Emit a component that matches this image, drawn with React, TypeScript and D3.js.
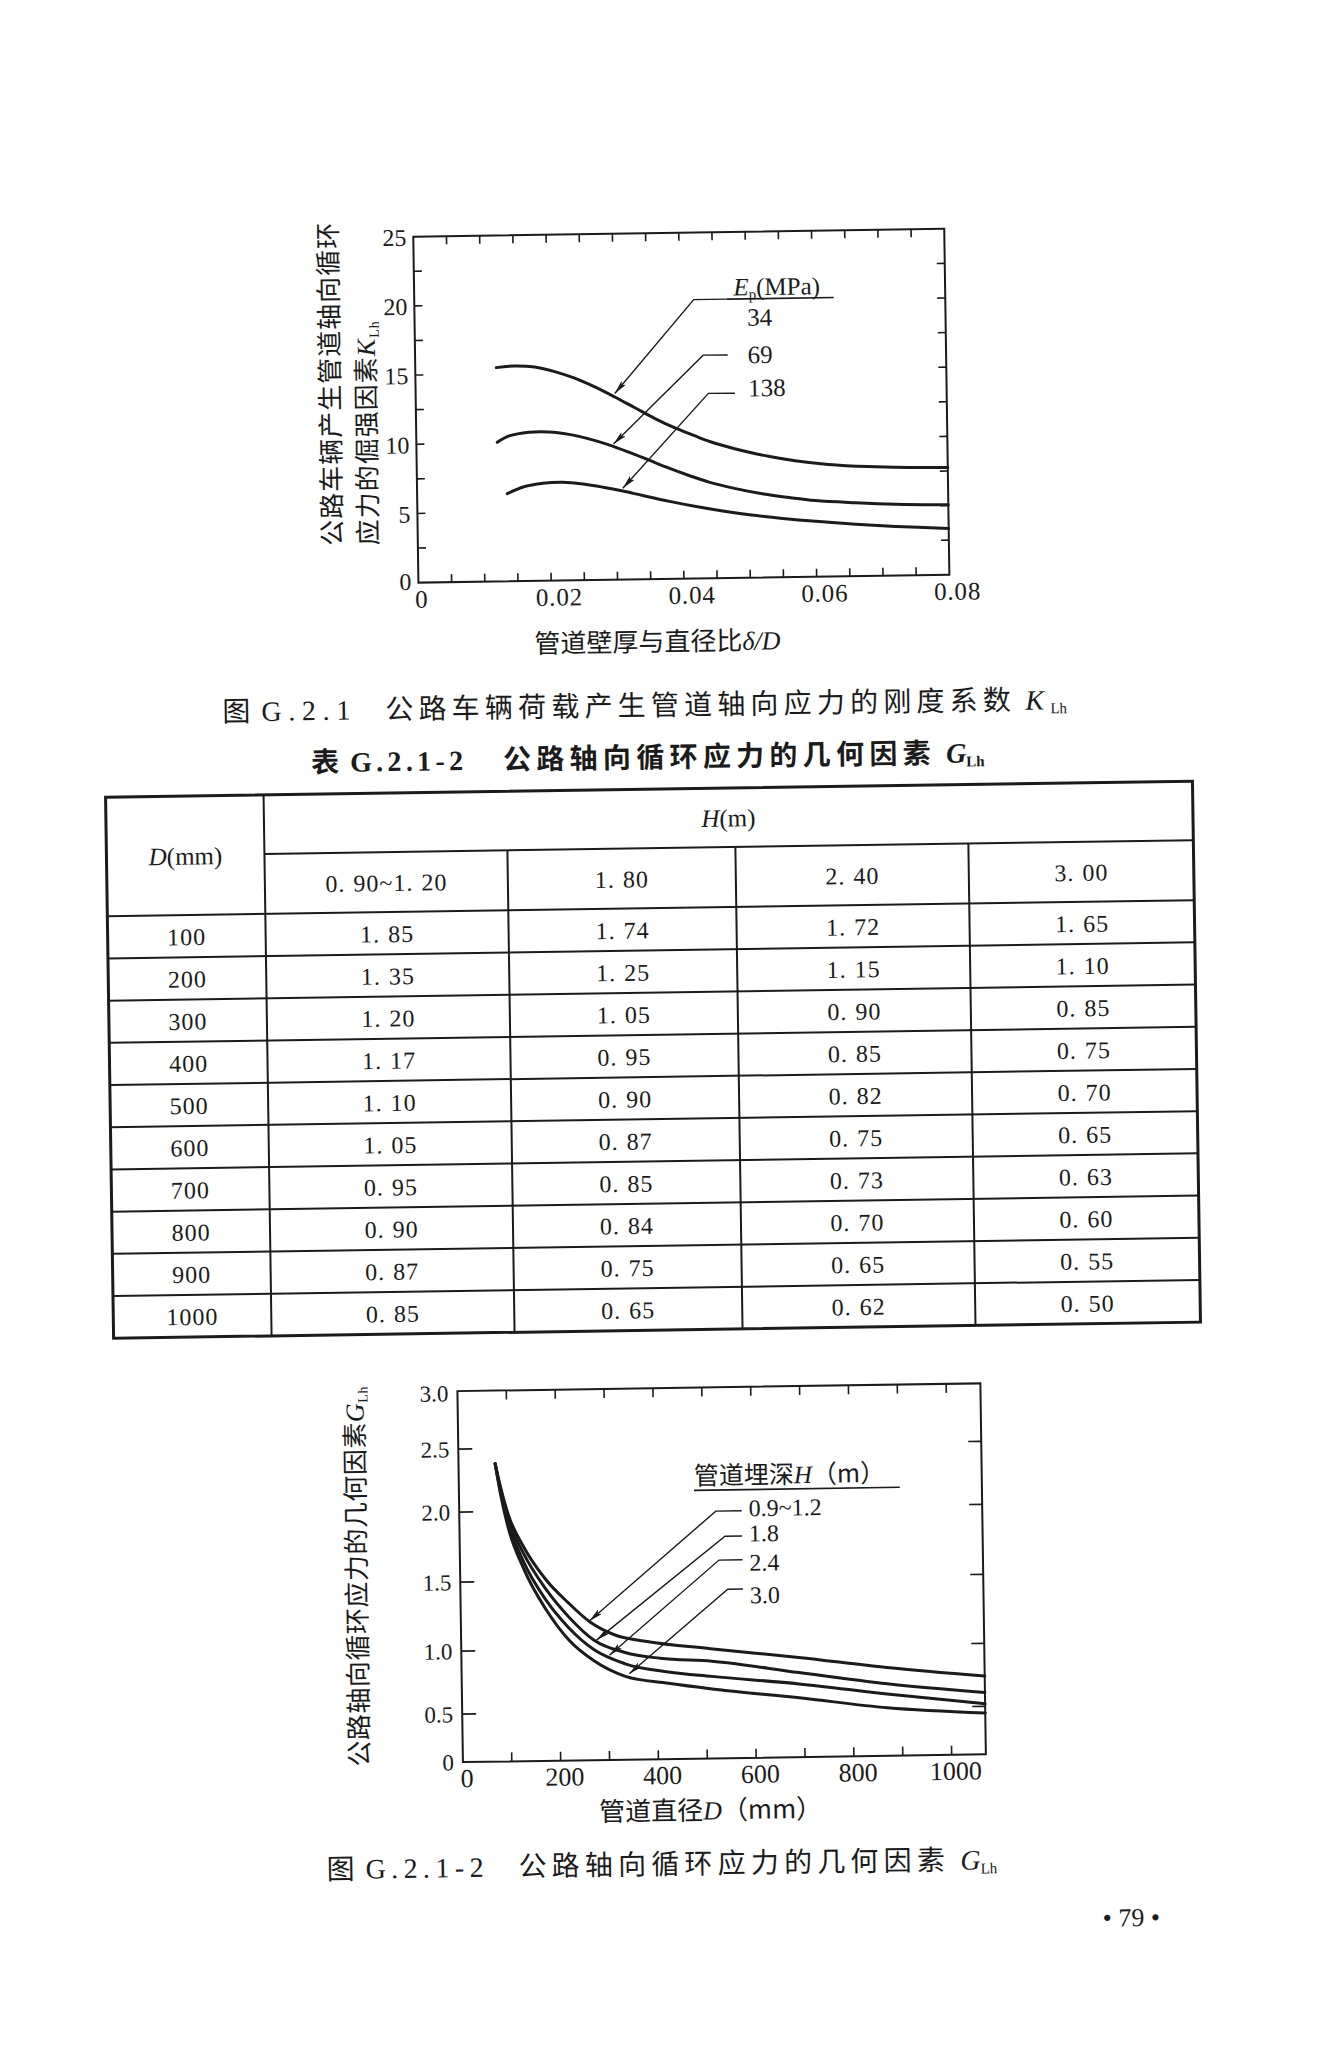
import React from 'react';
import * as d3 from 'd3';

// ---------------- Figure G.2.1 : K_Lh vs δ/D ----------------
const kSeriesNames = ['34', '69', '138'];
const kE34: [number, number][] = [
  [0.0122, 15.45], [0.015, 15.55], [0.018, 15.45], [0.021, 15.1], [0.024, 14.6], [0.027, 13.95],
  [0.03, 13.2], [0.033, 12.4], [0.036, 11.6], [0.039, 10.9], [0.042, 10.3], [0.045, 9.75],
  [0.049, 9.2], [0.053, 8.75], [0.057, 8.4], [0.062, 8.1], [0.068, 7.9], [0.074, 7.8], [0.08, 7.75],
];
const kE69: [number, number][] = [
  [0.0122, 10.05], [0.014, 10.5], [0.017, 10.75], [0.02, 10.75], [0.023, 10.55], [0.026, 10.2],
  [0.029, 9.75], [0.032, 9.2], [0.035, 8.6], [0.038, 8.0], [0.041, 7.45], [0.044, 6.95],
  [0.048, 6.45], [0.052, 6.05], [0.056, 5.75], [0.06, 5.5], [0.066, 5.3], [0.072, 5.15], [0.08, 5.05],
];
const kE138: [number, number][] = [
  [0.0136, 6.33], [0.016, 6.8], [0.019, 7.05], [0.022, 7.1], [0.025, 6.95], [0.028, 6.7],
  [0.031, 6.4], [0.034, 6.05], [0.038, 5.6], [0.042, 5.2], [0.046, 4.85], [0.05, 4.55],
  [0.055, 4.25], [0.06, 4.0], [0.066, 3.75], [0.072, 3.55], [0.08, 3.35],
];
const kXTickValues = [0, 0.02, 0.04, 0.06, 0.08];
const kXTickLabels = ['0', '0.02', '0.04', '0.06', '0.08'];
const kYTickValues = [0, 5, 10, 15, 20, 25];
// annotation anchors (data units): label, leader start, bend, arrow tip
const kLeaderLabelAt: [number, number][] = [[0.0501, 18.2], [0.0501, 15.5], [0.0501, 13.1]];
const kLeaderStart: [number, number][] = [[0.0471, 20.15], [0.0471, 16.11], [0.0481, 13.34]];
const kLeaderBend: [number, number][] = [[0.0421, 20.15], [0.0434, 16.13], [0.0441, 13.36]];
const kLeaderTip: [number, number][] = [[0.030, 13.45], [0.0297, 9.8], [0.031, 6.6]];
const kLegendTitleAt: [number, number] = [0.0481, 20.4];
const kLegendRule: [number, number, number] = [0.0471, 0.0632, 20.15];

// ---------------- Table G.2.1-2 ----------------
const tableDepths = ['0.90~1.20', '1.80', '2.40', '3.00'];
const tableDiameters = ['100', '200', '300', '400', '500', '600', '700', '800', '900', '1000'];
const tableH090 = ['1.85', '1.35', '1.20', '1.17', '1.10', '1.05', '0.95', '0.90', '0.87', '0.85'];
const tableH180 = ['1.74', '1.25', '1.05', '0.95', '0.90', '0.87', '0.85', '0.84', '0.75', '0.65'];
const tableH240 = ['1.72', '1.15', '0.90', '0.85', '0.82', '0.75', '0.73', '0.70', '0.65', '0.62'];
const tableH300 = ['1.65', '1.10', '0.85', '0.75', '0.70', '0.65', '0.63', '0.60', '0.55', '0.50'];

// ---------------- Figure G.2.1-2 : G_Lh vs D ----------------
const gSeriesNames = ['0.9~1.2', '1.8', '2.4', '3.0'];
const gH09: [number, number][] = [
  [75, 2.38], [85, 2.2], [100, 1.98], [130, 1.75], [175, 1.51], [220, 1.34], [265, 1.195],
  [315, 1.1], [380, 1.05], [510, 0.99], [690, 0.91], [870, 0.82], [1070, 0.74],
];
const gH18: [number, number][] = [
  [75, 2.38], [85, 2.18], [100, 1.95], [130, 1.7], [175, 1.44], [220, 1.24], [272, 1.065],
  [335, 0.97], [406, 0.92], [512, 0.89], [690, 0.79], [870, 0.69], [1070, 0.61],
];
const gH24: [number, number][] = [
  [75, 2.38], [85, 2.16], [100, 1.92], [130, 1.64], [175, 1.36], [220, 1.16], [272, 0.995],
  [335, 0.88], [423, 0.81], [512, 0.77], [690, 0.7], [870, 0.61], [1070, 0.52],
];
const gH30: [number, number][] = [
  [75, 2.38], [85, 2.14], [100, 1.88], [130, 1.59], [175, 1.29], [220, 1.07], [272, 0.905],
  [335, 0.78], [423, 0.72], [512, 0.67], [690, 0.59], [870, 0.5], [1070, 0.43],
];
const gXTickValues = [0, 200, 400, 600, 800, 1000];
const gYTickValues = [0, 0.5, 1, 1.5, 2, 2.5, 3];
const gYTickLabels = ['0', '0.5', '1.0', '1.5', '2.0', '2.5', '3.0'];
const gLeaderLabelAt: [number, number][] = [[592, 1.94], [592, 1.76], [592, 1.55], [592, 1.315]];
const gLeaderStart: [number, number][] = [[578, 1.98], [578, 1.8], [578, 1.63], [578, 1.42]];
const gLeaderBend: [number, number][] = [[525, 1.98], [543, 1.8], [530, 1.63], [547, 1.42]];
const gLeaderTip: [number, number][] = [[263, 1.205], [277, 1.065], [303, 0.95], [343, 0.8]];
const gLegendTitleAt: [number, number] = [481, 2.19];
const gLegendRule: [number, number, number] = [481, 902, 2.145];

// ---------------- styling ----------------
const SERIF = '"Liberation Serif", "DejaVu Serif", serif';
const CJK = '"Noto Sans CJK SC", "Noto Sans", sans-serif';
const INK = '#1b1b1b';
const ROT = -0.85;

function DotNum({ x, y, text, size, gap, anchor = 'middle' }: any) {
  const parts = text.split('.');
  return (
    <text x={x} y={y} fontFamily={SERIF} fontSize={size} fill={INK} textAnchor={anchor} letterSpacing={1}>
      {parts.map((p: string, i: number) => (
        <tspan key={i} dx={i === 0 ? 0 : gap}>{p + (i < parts.length - 1 ? '.' : '')}</tspan>
      ))}
    </text>
  );
}

function Arrow({ id }: { id: string }) {
  return (
    <marker id={id} viewBox="0 0 14 6" refX={14} refY={3} markerWidth={14} markerHeight={6}
      markerUnits="userSpaceOnUse" orient="auto">
      <path d="M0,0 L14,3 L0,6 L3,3 Z" fill={INK} />
    </marker>
  );
}

export default function App() {
  // ---- top chart scales
  const tx = d3.scaleLinear().domain([0, 0.08]).range([425, 956]);
  const ty = d3.scaleLinear().domain([0, 25]).range([579, 233]);
  const tLine = d3.line<[number, number]>().x(d => tx(d[0])).y(d => ty(d[1])).curve(d3.curveCatmullRom.alpha(0.5));
  const tMinorX = d3.range(1, 16).map(i => i * 0.005);
  const tMinorY = d3.range(1, 10).map(i => i * 2.5);

  // ---- bottom chart scales (scan's value axis is slightly uneven: piecewise)
  const bx = d3.scaleLinear().domain([0, 1070]).range([452, 975]);
  const by = d3.scaleLinear().domain(gYTickValues).range([1759, 1711, 1648, 1579, 1509, 1446, 1388]);
  const bLine = d3.line<[number, number]>().x(d => bx(d[0])).y(d => by(d[1])).curve(d3.curveMonotoneX);
  const bMinorX = d3.range(1, 11).map(i => i * 100);
  const bMinorY = [0.5, 1, 1.5, 2, 2.5];

  // ---- table geometry
  const colX = [109, 267, 510, 738, 971, 1196];
  const tTop = 789, tSplit = 848, tHead = 908, tBottom = 1330;
  const rowY = d3.scaleLinear().domain([0, tableDiameters.length]).range([tHead, tBottom]);
  const tableCols = [tableH090, tableH180, tableH240, tableH300];

  const topSeries = [kE34, kE69, kE138];
  const botSeries = [gH09, gH18, gH24, gH30];

  return (
    <svg width={1333} height={2048} style={{ position: 'fixed', left: 0, top: 0, display: 'block', background: '#fff' }}>
      <defs>
        <Arrow id="arr" />
      </defs>
      <rect x={0} y={0} width={1333} height={2048} fill="#fff" />
      <g transform={`rotate(${ROT} 666 1024)`}>
        {/* ================= TOP CHART ================= */}
        <g>
          <rect x={tx(0)} y={ty(25)} width={tx(0.08) - tx(0)} height={ty(0) - ty(25)} fill="none" stroke={INK} strokeWidth={2} />
          {tMinorX.map(v => (
            <g key={'tx' + v}>
              <line x1={tx(v)} x2={tx(v)} y1={ty(0)} y2={ty(0) - 8} stroke={INK} strokeWidth={1.6} />
              <line x1={tx(v)} x2={tx(v)} y1={ty(25)} y2={ty(25) + 8} stroke={INK} strokeWidth={1.6} />
            </g>
          ))}
          {tMinorY.map(v => (
            <g key={'ty' + v}>
              <line x1={tx(0)} x2={tx(0) + 8} y1={ty(v)} y2={ty(v)} stroke={INK} strokeWidth={1.6} />
              <line x1={tx(0.08)} x2={tx(0.08) - 8} y1={ty(v)} y2={ty(v)} stroke={INK} strokeWidth={1.6} />
            </g>
          ))}
          {kXTickValues.map((v, i) => (
            <text key={'txl' + i} x={tx(v) + (i === 0 ? 3 : 8)} y={ty(0) + 25} fontFamily={SERIF} fontSize={25} fill={INK} textAnchor="middle" letterSpacing={0.8}>{kXTickLabels[i]}</text>
          ))}
          {kYTickValues.map((v, i) => (
            <text key={'tyl' + i} x={tx(0) - 7} y={ty(v) + 9 + (i === 0 ? -2 : 0)} fontFamily={SERIF} fontSize={24} fill={INK} textAnchor="end">{v}</text>
          ))}
          {topSeries.map((s, i) => (
            <path key={'ts' + i} d={tLine(s) || ''} fill="none" stroke={INK} strokeWidth={3} strokeLinecap="round" />
          ))}
          {/* legend */}
          <text x={tx(kLegendTitleAt[0])} y={ty(kLegendTitleAt[1])} fontFamily={SERIF} fontSize={25} fill={INK}>
            <tspan fontStyle="italic">E</tspan>
            <tspan fontSize={15} dy={4}>p</tspan>
            <tspan dy={-4}>(MPa)</tspan>
          </text>
          <line x1={tx(kLegendRule[0])} x2={tx(kLegendRule[1])} y1={ty(kLegendRule[2])} y2={ty(kLegendRule[2])} stroke={INK} strokeWidth={1.6} />
          {kSeriesNames.map((name, i) => (
            <g key={'tl' + i}>
              <text x={tx(kLeaderLabelAt[i][0])} y={ty(kLeaderLabelAt[i][1])} fontFamily={SERIF} fontSize={25} fill={INK}>{name}</text>
              <polyline
                points={[kLeaderStart[i], kLeaderBend[i], kLeaderTip[i]].map(p => `${tx(p[0])},${ty(p[1])}`).join(' ')}
                fill="none" stroke={INK} strokeWidth={1.4} markerEnd="url(#arr)" />
            </g>
          ))}
          {/* axis titles */}
          <text x={663} y={651} fontFamily={CJK} fontSize={26} fill={INK} textAnchor="middle">
            管道壁厚与直径比<tspan fontFamily={SERIF} fontStyle="italic">δ/D</tspan>
          </text>
          <text transform="translate(349,541) rotate(-90)" fontFamily={CJK} fontSize={26} fill={INK} letterSpacing={1}>
            公路车辆产生管道轴向循环
          </text>
          <text transform="translate(385,541) rotate(-90)" fontFamily={CJK} fontSize={26} fill={INK} letterSpacing={1}>
            应力的倔强因素<tspan fontFamily={SERIF} fontStyle="italic">K</tspan><tspan fontFamily={SERIF} fontSize={14} dy={4}>Lh</tspan>
          </text>
        </g>

        {/* ================= CAPTION 1 & TABLE TITLE ================= */}
        <text x={227} y={715} fontFamily={CJK} fontSize={28} fill={INK}>图</text>
        <text x={266} y={715} fontFamily={SERIF} fontSize={28} fill={INK} textLength={89} lengthAdjust="spacing">G.2.1</text>
        <text x={390} y={715} fontFamily={CJK} fontSize={28} fill={INK} letterSpacing={5.2}>公路车辆荷载产生管道轴向应力的刚度系数</text>
        <text x={1030} y={715} fontFamily={SERIF} fontSize={28} fill={INK} fontStyle="italic">K</text>
        <text x={1055} y={719} fontFamily={SERIF} fontSize={15} fill={INK}>Lh</text>

        <text x={315} y={767} fontFamily={CJK} fontSize={28} fontWeight={700} fill={INK}>表</text>
        <text x={354} y={767} fontFamily={SERIF} fontSize={28} fontWeight={700} fill={INK} textLength={113} lengthAdjust="spacing">G.2.1-2</text>
        <text x={507} y={767} fontFamily={CJK} fontSize={28} fontWeight={700} fill={INK} letterSpacing={5.3}>公路轴向循环应力的几何因素</text>
        <text x={950} y={767} fontFamily={SERIF} fontSize={28} fontWeight={700} fill={INK} fontStyle="italic">G</text>
        <text x={970} y={771} fontFamily={SERIF} fontSize={15} fontWeight={700} fill={INK}>Lh</text>

        {/* ================= TABLE ================= */}
        <g>
          <rect x={colX[0]} y={tTop} width={colX[5] - colX[0]} height={tBottom - tTop} fill="none" stroke={INK} strokeWidth={3} />
          <line x1={colX[1]} x2={colX[5]} y1={tSplit} y2={tSplit} stroke={INK} strokeWidth={2} />
          <line x1={colX[0]} x2={colX[5]} y1={tHead} y2={tHead} stroke={INK} strokeWidth={2} />
          {d3.range(1, tableDiameters.length).map(i => (
            <line key={'rl' + i} x1={colX[0]} x2={colX[5]} y1={rowY(i)} y2={rowY(i)} stroke={INK} strokeWidth={2} />
          ))}
          <line x1={colX[1]} x2={colX[1]} y1={tTop} y2={tBottom} stroke={INK} strokeWidth={2} />
          {[2, 3, 4].map(c => (
            <line key={'cl' + c} x1={colX[c]} x2={colX[c]} y1={tSplit} y2={tBottom} stroke={INK} strokeWidth={2} />
          ))}
          <text x={(colX[0] + colX[1]) / 2} y={(tTop + tHead) / 2 + 9} fontFamily={SERIF} fontSize={25} fill={INK} textAnchor="middle">
            <tspan fontStyle="italic">D</tspan>(mm)
          </text>
          <text x={(colX[1] + colX[5]) / 2} y={(tTop + tSplit) / 2 + 9} fontFamily={SERIF} fontSize={25} fill={INK} textAnchor="middle">
            <tspan fontStyle="italic">H</tspan>(m)
          </text>
          {tableDepths.map((h, c) => (
            <DotNum key={'hd' + c} x={(colX[c + 1] + colX[c + 2]) / 2} y={(tSplit + tHead) / 2 + 9} text={h} size={24} gap={8} />
          ))}
          {tableDiameters.map((d, r) => (
            <g key={'row' + r}>
              <text x={(colX[0] + colX[1]) / 2} y={(rowY(r) + rowY(r + 1)) / 2 + 9} fontFamily={SERIF} fontSize={24} fill={INK} textAnchor="middle" letterSpacing={1}>{d}</text>
              {tableCols.map((col, c) => (
                <DotNum key={'c' + c} x={(colX[c + 1] + colX[c + 2]) / 2} y={(rowY(r) + rowY(r + 1)) / 2 + 9} text={col[r]} size={24} gap={8} />
              ))}
            </g>
          ))}
        </g>

        {/* ================= BOTTOM CHART ================= */}
        <g>
          <rect x={bx(0)} y={by(3)} width={bx(1070) - bx(0)} height={by(0) - by(3)} fill="none" stroke={INK} strokeWidth={2} />
          {bMinorX.map(v => (
            <g key={'bx' + v}>
              <line x1={bx(v)} x2={bx(v)} y1={by(0)} y2={by(0) - 9} stroke={INK} strokeWidth={1.6} />
              <line x1={bx(v)} x2={bx(v)} y1={by(3)} y2={by(3) + 9} stroke={INK} strokeWidth={1.6} />
            </g>
          ))}
          {bMinorY.map(v => (
            <g key={'by' + v}>
              <line x1={bx(0)} x2={bx(0) + 14} y1={by(v)} y2={by(v)} stroke={INK} strokeWidth={1.6} />
              <line x1={bx(1070)} x2={bx(1070) - 13} y1={by(v)} y2={by(v)} stroke={INK} strokeWidth={1.6} />
            </g>
          ))}
          {gXTickValues.map((v, i) => (
            <text key={'bxl' + i} x={bx(v) + 4} y={by(0) + 25} fontFamily={SERIF} fontSize={26} fill={INK} textAnchor="middle">{v}</text>
          ))}
          {gYTickValues.map((v, i) => (
            <text key={'byl' + i} x={bx(0) - 9} y={by(v) + 8 + (i === 6 ? 2 : 0)} fontFamily={SERIF} fontSize={23} fill={INK} textAnchor="end">{gYTickLabels[i]}</text>
          ))}
          {botSeries.map((s, i) => (
            <path key={'bs' + i} d={bLine(s) || ''} fill="none" stroke={INK} strokeWidth={3} strokeLinecap="round" />
          ))}
          <text x={bx(gLegendTitleAt[0])} y={by(gLegendTitleAt[1])} fontFamily={CJK} fontSize={25} fill={INK}>
            管道埋深<tspan fontFamily={SERIF} fontStyle="italic">H</tspan>（m）
          </text>
          <line x1={bx(gLegendRule[0])} x2={bx(gLegendRule[1])} y1={by(gLegendRule[2])} y2={by(gLegendRule[2])} stroke={INK} strokeWidth={1.6} />
          {gSeriesNames.map((name, i) => (
            <g key={'bl' + i}>
              <text x={bx(gLeaderLabelAt[i][0])} y={by(gLeaderLabelAt[i][1])} fontFamily={SERIF} fontSize={24} fill={INK}>{name}</text>
              <polyline
                points={[gLeaderStart[i], gLeaderBend[i], gLeaderTip[i]].map(p => `${bx(p[0])},${by(p[1])}`).join(' ')}
                fill="none" stroke={INK} strokeWidth={1.4} markerEnd="url(#arr)" />
            </g>
          ))}
          <text x={699} y={1820} fontFamily={CJK} fontSize={26} fill={INK} textAnchor="middle">
            管道直径<tspan fontFamily={SERIF} fontStyle="italic">D</tspan>（mm）
          </text>
          <text transform="translate(358,1762) rotate(-90)" fontFamily={CJK} fontSize={26} fill={INK} letterSpacing={0.5}>
            公路轴向循环应力的几何因素<tspan fontFamily={SERIF} fontStyle="italic">G</tspan><tspan fontFamily={SERIF} fontSize={14} dy={4}>Lh</tspan>
          </text>
        </g>

        {/* ================= CAPTION 2 & PAGE NUMBER ================= */}
        <text x={314} y={1874} fontFamily={CJK} fontSize={28} fill={INK}>图</text>
        <text x={353} y={1874} fontFamily={SERIF} fontSize={28} fill={INK} textLength={118} lengthAdjust="spacing">G.2.1-2</text>
        <text x={506} y={1874} fontFamily={CJK} fontSize={28} fill={INK} letterSpacing={5.2}>公路轴向循环应力的几何因素</text>
        <text x={948} y={1874} fontFamily={SERIF} fontSize={28} fill={INK} fontStyle="italic">G</text>
        <text x={968} y={1878} fontFamily={SERIF} fontSize={15} fill={INK}>Lh</text>

        <text x={1118} y={1933} fontFamily={SERIF} fontSize={26} fill={INK} textAnchor="middle">• 79 •</text>
      </g>
    </svg>
  );
}
